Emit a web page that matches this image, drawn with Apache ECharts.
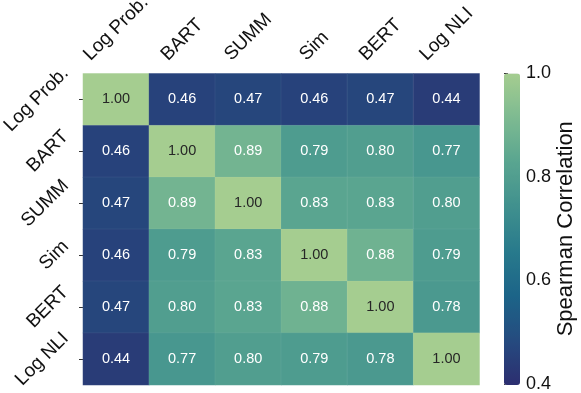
<!DOCTYPE html>
<html>
<head>
<meta charset="utf-8">
<script src="https://cdn.jsdelivr.net/npm/echarts@6/dist/echarts.min.js"></script>
<style>
  html, body { margin: 0; padding: 0; background: #fff; }
  #chart { width: 581px; height: 393px; }
</style>
</head>
<body>
<div id="chart"></div>
<script>
// metric names (rows top -> bottom, columns left -> right)
const metrics = ['Log Prob.', 'BART', 'SUMM', 'Sim', 'BERT', 'Log NLI'];
// spearman correlation, one row per metric
const rowLogProb = [1.00, 0.46, 0.47, 0.46, 0.47, 0.44];
const rowBart    = [0.46, 1.00, 0.89, 0.79, 0.80, 0.77];
const rowSumm    = [0.47, 0.89, 1.00, 0.83, 0.83, 0.80];
const rowSim     = [0.46, 0.79, 0.83, 1.00, 0.88, 0.79];
const rowBert    = [0.47, 0.80, 0.83, 0.88, 1.00, 0.78];
const rowLogNli  = [0.44, 0.77, 0.80, 0.79, 0.78, 1.00];
const colorbarTicks = [0.4, 0.6, 0.8, 1.0];

const rows = [rowLogProb, rowBart, rowSumm, rowSim, rowBert, rowLogNli];
const FONT = '"Liberation Sans", Arial, Helvetica, sans-serif';

// crest_r colormap
const crest = ['#2c2e70', '#254b7f', '#1c6488', '#287a8c', '#40908e', '#59a590', '#7dba91', '#a5cd90'];

const heatData = [];
rows.forEach((row, y) => {
  row.forEach((v, x) => heatData.push([x, y, v]));
});

const gridL = 83, gridT = 73.5, gridW = 396.5, gridH = 311.5;

const chart = echarts.init(document.getElementById('chart'));
const option = {
  animation: false,
  textStyle: { fontFamily: FONT },
  grid: [
    { left: gridL, top: gridT, width: gridW, height: gridH },
    { left: 504, top: gridT, width: 16, height: gridH }
  ],
  xAxis: [
    {
      type: 'category', data: metrics, position: 'top', gridIndex: 0,
      axisLine: { show: false }, axisTick: { show: false },
      axisLabel: { show: false }, splitLine: { show: false }
    },
    { type: 'value', gridIndex: 1, show: false }
  ],
  yAxis: [
    {
      type: 'category', data: metrics, inverse: true, gridIndex: 0,
      axisLine: { show: false },
      axisTick: { show: true, alignWithLabel: true, length: 4, lineStyle: { color: '#333', width: 1 } },
      axisLabel: { show: false }, splitLine: { show: false }
    },
    {
      type: 'value', gridIndex: 1, position: 'right',
      min: colorbarTicks[0], max: colorbarTicks[colorbarTicks.length - 1], interval: 0.2,
      axisLine: { show: false },
      axisTick: { show: true, length: 4, lineStyle: { color: '#333', width: 1 } },
      axisLabel: { color: '#111', fontSize: 18, margin: 6, formatter: v => v.toFixed(1) },
      splitLine: { show: false },
      name: 'Spearman Correlation', nameLocation: 'middle', nameRotate: 90, nameGap: 34,
      nameTextStyle: { color: '#111', fontSize: 22 }
    }
  ],
  visualMap: {
    type: 'continuous',
    min: 0.4, max: 1.0,
    calculable: false,
    orient: 'vertical',
    left: 504, top: gridT,
    itemWidth: 16, itemHeight: gridH,
    padding: 0,
    text: null,
    seriesIndex: 0,
    inRange: { color: crest }
  },
  series: [{
    type: 'heatmap',
    data: heatData,
    itemStyle: { borderColor: 'rgba(255,255,255,0.12)', borderWidth: 0.5 },
    label: {
      show: true,
      fontSize: 14.5,
      fontFamily: FONT,
      formatter: p => p.value[2].toFixed(2),
      color: '#fff'
    },
    emphasis: { disabled: true }
  }]
};
// dark text on the light diagonal cells
option.series[0].data = heatData.map(d => ({
  value: d,
  label: { color: d[2] > 0.95 ? '#262626' : '#fff' }
}));
chart.setOption(option);

// rotated tick labels, centred like matplotlib (rotation 45)
const ctx = document.createElement('canvas').getContext('2d');
const LBL = 19;
ctx.font = LBL + 'px ' + FONT;
const graphics = [];
metrics.forEach((m, i) => {
  const w = ctx.measureText(m).width;
  const half = (w + 0.8 * LBL) * Math.SQRT1_2 / 2;
  const px = chart.convertToPixel({ gridIndex: 0 }, [i, 0]);
  const py = chart.convertToPixel({ gridIndex: 0 }, [0, i]);
  graphics.push({
    type: 'text', x: px[0], y: 63 - half, rotation: Math.PI / 4,
    style: { text: m, font: LBL + 'px ' + FONT, fill: '#111', align: 'center', verticalAlign: 'middle' }
  });
  graphics.push({
    type: 'text', x: 71 - half, y: py[1], rotation: Math.PI / 4,
    style: { text: m, font: LBL + 'px ' + FONT, fill: '#111', align: 'center', verticalAlign: 'middle' }
  });
});
chart.setOption({ graphic: graphics });
</script>
</body>
</html>
